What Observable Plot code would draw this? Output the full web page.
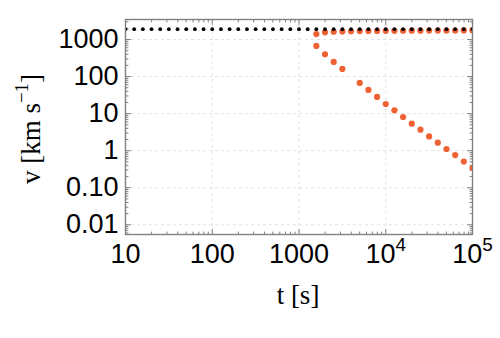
<!DOCTYPE html>
<html><head><meta charset="utf-8">
<script src="https://cdn.jsdelivr.net/npm/d3@7"></script>
<script src="https://cdn.jsdelivr.net/npm/@observablehq/plot@0.6"></script>
<style>html,body{margin:0;padding:0;background:#fff;}</style>
</head><body><div id="chart"></div>
<script>
// black series
const blackT = [10, 12.59, 15.85, 19.95, 25.12, 31.62, 39.81, 50.12, 63.1, 79.43,
  100, 125.9, 158.5, 199.5, 251.2, 316.2, 398.1, 501.2, 631, 794.3,
  1000, 1259, 1585, 1995, 2512, 3162, 3981, 5012, 6310, 7943,
  10000, 12589, 15849, 19953, 25119, 31623, 39811, 50119, 63096, 79433, 100000];
const blackV = [1900, 1900, 1900, 1900, 1900, 1900, 1900, 1900, 1900, 1900,
  1900, 1900, 1900, 1900, 1900, 1900, 1900, 1900, 1900, 1900,
  1900, 1900, 1900, 1900, 1900, 1900, 1900, 1900, 1900, 1900,
  1900, 1900, 1900, 1900, 1900, 1900, 1900, 1900, 1900, 1900, 1900];
// orange upper branch
const upperT = [1585, 1995, 2512, 3162, 3981, 5012, 6310, 7943,
  10000, 12589, 15849, 19953, 25119, 31623, 39811, 50119, 63096, 79433, 100000];
const upperV = [1400, 1560, 1620, 1650, 1670, 1690, 1700, 1710,
  1715, 1720, 1725, 1730, 1735, 1740, 1745, 1750, 1750, 1755, 1760];
// orange lower branch
const lowerT = [1585, 1995, 2512, 3162, 5012, 6310, 7943,
  10000, 12589, 15849, 19953, 25119, 31623, 39811, 50119, 63096, 79433, 100000];
const lowerV = [673, 401, 248, 161, 67.3, 43.5, 28.2,
  18.2, 12.3, 8.1, 5.36, 3.69, 2.43, 1.64, 1.11, 0.76, 0.51, 0.34];

const xTicks = [10, 100, 1000, 10000, 100000];
const xTickLabels = ["10", "100", "1000", "10⁴", "10⁵"];
const yTicks = [0.01, 0.1, 1, 10, 100, 1000];
const yTickLabels = ["0.01", "0.10", "1", "10", "100", "1000"];
const xDomain = [10, 100000];
const yDomain = [0.00547, 3470];
const xTitle = "t [s]";
const yTitle = "v [km s⁻¹]";

const orange = "#ee6234";
const frameColor = "#808080";
const gridColor = "#e2e2e2";

const black = blackT.map((t, i) => ({t, v: blackV[i]}));
const upper = upperT.map((t, i) => ({t, v: upperV[i]}));
const lower = lowerT.map((t, i) => ({t, v: lowerV[i]}));

const near = (a, arr) => arr.some(b => Math.abs(a - b) / b < 1e-9);
const minorX = d3.scaleLog().domain(xDomain).ticks().filter(d => !near(d, xTicks));
const minorY = d3.scaleLog().domain(yDomain).ticks().filter(d => !near(d, yTicks));

const tickShape = {draw(context, l) { context.moveTo(0, 0); context.lineTo(0, -l); }};
const MAJ = 5, MIN = 2.5;
const tickOpts = (extra) => ({anchor: "start", shape: tickShape, stroke: frameColor, strokeWidth: 1, ...extra});
const sans = "'Liberation Sans', Arial, sans-serif";
const serif = "'Liberation Serif', 'Times New Roman', serif";

const plot = Plot.plot({
  width: 500,
  height: 338,
  marginLeft: 125,
  marginRight: 28,
  marginTop: 19,
  marginBottom: 104,
  style: {fontFamily: sans, fontSize: "27px", background: "#fff", color: "#000"},
  x: {type: "log", domain: xDomain},
  y: {type: "log", domain: yDomain},
  marks: [
    Plot.ruleX(xTicks.slice(1, -1), {x: d => d, stroke: gridColor, strokeDasharray: "3,3"}),
    Plot.ruleY(yTicks, {y: d => d, stroke: gridColor, strokeDasharray: "3,3"}),
    // minor and major ticks, inward on all four sides
    Plot.vector(minorX, tickOpts({x: d => d, frameAnchor: "bottom", rotate: 0, length: MIN})),
    Plot.vector(xTicks, tickOpts({x: d => d, frameAnchor: "bottom", rotate: 0, length: MAJ})),
    Plot.vector(minorX, tickOpts({x: d => d, frameAnchor: "top", rotate: 180, length: MIN})),
    Plot.vector(xTicks, tickOpts({x: d => d, frameAnchor: "top", rotate: 180, length: MAJ})),
    Plot.vector(minorY, tickOpts({y: d => d, frameAnchor: "left", rotate: 90, length: MIN})),
    Plot.vector(yTicks, tickOpts({y: d => d, frameAnchor: "left", rotate: 90, length: MAJ})),
    Plot.vector(minorY, tickOpts({y: d => d, frameAnchor: "right", rotate: -90, length: MIN})),
    Plot.vector(yTicks, tickOpts({y: d => d, frameAnchor: "right", rotate: -90, length: MAJ})),
    Plot.dot(upper, {x: "t", y: "v", r: 3.1, fill: orange, clip: true}),
    Plot.dot(lower, {x: "t", y: "v", r: 3.1, fill: orange, clip: true}),
    Plot.dot(black, {x: "t", y: "v", r: 1.9, fill: "#000", clip: true}),
    Plot.frame({stroke: frameColor, strokeWidth: 1.4}),
    Plot.axisX(xTicks, {tickSize: 0, tickPadding: 9, label: null, fill: "#000", fontFamily: sans, fontSize: 27,
      tickFormat: d => xTickLabels[xTicks.indexOf(d)]}),
    Plot.axisY(yTicks, {tickSize: 0, tickPadding: 7, label: null, fill: "#000", fontFamily: sans, fontSize: 27,
      tickFormat: d => yTickLabels[yTicks.indexOf(d)]}),
    Plot.text([xTitle], {text: d => d, frameAnchor: "bottom", textAnchor: "middle", dy: 69, dx: -1,
      fontFamily: serif, fontSize: 27, fill: "#000"}),
    Plot.text([yTitle], {text: d => d, frameAnchor: "left", textAnchor: "middle", dx: -94.5, dy: 2, rotate: -90,
      fontFamily: serif, fontSize: 27, fill: "#000"})
  ]
});

// typeset superscripts as real tspans
const sup = {"⁰":"0","¹":"1","²":"2","³":"3","⁴":"4","⁵":"5","⁶":"6","⁷":"7","⁸":"8","⁹":"9","⁻":"−"};
d3.select(plot).selectAll("text").each(function() {
  const s = this.textContent;
  const m = s.match(/^([^⁰¹²³⁴⁵⁶⁷⁸⁹⁻]*)([⁰¹²³⁴⁵⁶⁷⁸⁹⁻]+)(.*)$/);
  if (!m) return;
  const el = d3.select(this);
  const fs = 27;
  el.text(null);
  el.append("tspan").text(m[1]);
  el.append("tspan").attr("font-size", fs * 0.7).attr("dy", -fs * 0.42)
    .text([...m[2]].map(c => sup[c]).join(""));
  if (m[3]) el.append("tspan").attr("dy", fs * 0.42).text(m[3]);
});

document.getElementById("chart").appendChild(plot);
</script>
</body></html>
